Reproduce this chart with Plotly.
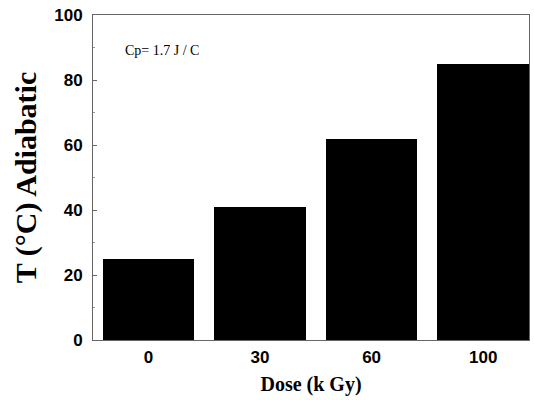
import plotly.graph_objects as go

# Adiabatic temperature rise versus absorbed dose
dose_labels = ["0", "30", "60", "100"]
temp_adiabatic = [25, 41, 62, 85]
positions = list(range(len(dose_labels)))

fig = go.Figure(
    go.Bar(
        x=positions,
        y=temp_adiabatic,
        width=0.82,
        marker=dict(color="black", line=dict(width=0)),
        showlegend=False,
    )
)

tick_font = dict(family="Liberation Sans, Arial, sans-serif", size=17, color="black", weight="bold")
title_font = dict(family="Liberation Serif, Times New Roman, serif", color="black", weight="bold")

fig.update_xaxes(
    range=[-0.496, 3.41],
    tickvals=positions,
    ticktext=dose_labels,
    tickfont=tick_font,
    ticks="",
    showgrid=False,
    zeroline=False,
    showline=True,
    linecolor="#666",
    linewidth=1,
    mirror=True,
    ticklabelstandoff=2,
    title=dict(text="Dose (k Gy)", font=dict(size=20, **title_font), standoff=10),
)

fig.update_yaxes(
    range=[0, 100],
    tickvals=[0, 20, 40, 60, 80, 100],
    tickfont=tick_font,
    ticks="inside",
    ticklen=4,
    tickcolor="#666",
    minor=dict(ticks="inside", ticklen=2, tickcolor="#999", dtick=10),
    showgrid=False,
    zeroline=False,
    showline=True,
    linecolor="#666",
    linewidth=1,
    mirror=True,
    ticklabelstandoff=6,
    title=dict(text="T (°C) Adiabatic", font=dict(size=30, **title_font), standoff=8),
)

fig.add_annotation(
    text="Cp= 1.7 J / C",
    xref="paper", yref="paper",
    x=0.069, y=0.89,
    xanchor="left", yanchor="middle",
    showarrow=False,
    font=dict(family="Liberation Serif, Times New Roman, serif", size=14, color="black"),
)

fig.update_layout(
    width=534,
    height=400,
    margin=dict(l=93, r=5, t=15, b=60, autoexpand=False),
    plot_bgcolor="white",
    paper_bgcolor="white",
    bargap=0,
)

fig.write_html("out.html")
